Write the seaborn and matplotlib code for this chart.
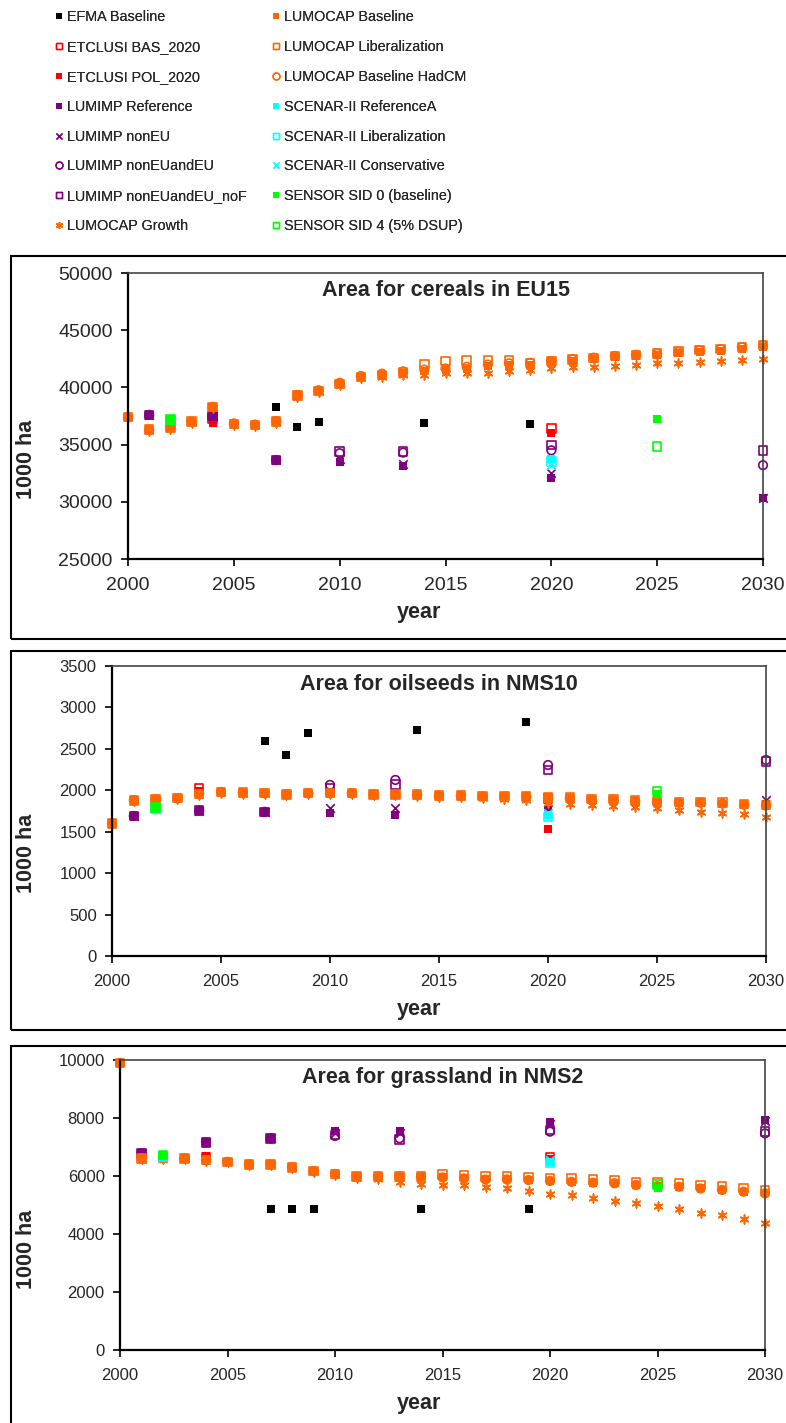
import matplotlib
matplotlib.use('Agg')
import matplotlib.pyplot as plt
import seaborn as sns
from matplotlib.lines import Line2D
from matplotlib.patches import Rectangle

sns.set_style('ticks')
plt.rcParams['font.family'] = ['Liberation Sans', 'DejaVu Sans']

# ---- data (1000 ha) ----
years_lumocap = list(range(2000, 2031))
years_efma = [2007, 2008, 2009, 2014, 2019]
years_etclusi = [2004, 2020]
years_lumimp = [2001, 2004, 2007, 2010, 2013, 2020, 2030]
years_scenar = [2002, 2020]
years_sensor = [2002, 2025]

# cereals EU15
efma_cer = [38300, 36500, 37000, 36900, 36800]
etc_bas_cer = [37300, 36400]
etc_pol_cer = [36900, 36050]
lumimp_ref_cer = [37600, 37500, 33650, 33450, 33100, 32050, 30300]
lumimp_noneu_cer = [37600, 37500, 33650, 33700, 33300, 32500, 30300]
lumimp_eu_cer = [37600, 37500, 33650, 34250, 34300, 34500, 33200]
lumimp_nof_cer = [37600, 37500, 33650, 34400, 34400, 34950, 34500]
lumocap_growth_cer = [37300, 36200, 36400, 36900, 38200, 36700, 36600, 36900, 39200, 39600,
                      40200, 40800, 40950, 41080, 41080, 41230, 41250, 41300, 41400, 41500,
                      41670, 41760, 41820, 41880, 41960, 42100, 42150, 42240, 42330, 42400, 42450]
lumocap_base_cer = [37400, 36300, 36500, 37000, 38300, 36800, 36700, 37000, 39300, 39700,
                    40300, 40900, 41100, 41300, 41450, 41500, 41650, 41850, 41950, 42000,
                    42200, 42330, 42480, 42630, 42740, 42830, 42980, 43120, 43210, 43380, 43560]
lumocap_lib_cer = [37400, 36300, 36500, 37000, 38300, 36800, 36700, 37000, 39300, 39700,
                   40300, 40900, 41100, 41300, 42050, 42300, 42330, 42330, 42330, 42150,
                   42300, 42430, 42580, 42730, 42850, 42980, 43130, 43270, 43360, 43530, 43700]
lumocap_hadcm_cer = [37400, 36300, 36500, 37000, 38300, 36850, 36750, 37050, 39350, 39750,
                     40400, 41000, 41200, 41400, 41550, 41650, 41800, 42000, 42100, 42150,
                     42300, 42450, 42600, 42750, 42850, 42950, 43100, 43250, 43350, 43500, 43650]
scen_ref_cer = [37150, 33700]
scen_lib_cer = [37150, 33500]
scen_cons_cer = [37150, 33250]
sid0_cer = [37200, 37250]
sid4_cer = [37200, 34850]

# oilseeds NMS10
efma_oil = [2590, 2420, 2690, 2730, 2830]
etc_bas_oil = [2020, 1900]
etc_pol_oil = [1990, 1530]
lumimp_ref_oil = [1690, 1755, 1740, 1730, 1700, 1760, 1830]
lumimp_noneu_oil = [1690, 1755, 1740, 1790, 1790, 1860, 1880]
lumimp_eu_oil = [1690, 1755, 1740, 2065, 2125, 2305, 2365]
lumimp_nof_oil = [1690, 1755, 1740, 2030, 2070, 2245, 2345]
lumocap_growth_oil = [1590, 1870, 1880, 1895, 1945, 1970, 1960, 1955, 1940, 1955,
                      1955, 1955, 1940, 1940, 1930, 1920, 1915, 1905, 1900, 1880,
                      1850, 1835, 1820, 1810, 1795, 1790, 1765, 1740, 1720, 1710, 1680]
lumocap_base_oil = [1600, 1880, 1890, 1905, 1955, 1980, 1970, 1965, 1950, 1965,
                    1965, 1965, 1950, 1950, 1945, 1935, 1935, 1925, 1925, 1920,
                    1905, 1905, 1885, 1885, 1870, 1860, 1850, 1850, 1840, 1825, 1815]
lumocap_lib_oil = [1600, 1880, 1890, 1905, 1955, 1980, 1970, 1965, 1950, 1965,
                   1965, 1965, 1950, 1950, 1950, 1940, 1940, 1930, 1930, 1925,
                   1910, 1910, 1895, 1895, 1880, 1870, 1860, 1860, 1850, 1835, 1825]
lumocap_hadcm_oil = [1600, 1880, 1890, 1905, 1955, 1980, 1970, 1965, 1950, 1965,
                     1965, 1965, 1950, 1950, 1945, 1935, 1935, 1925, 1925, 1920,
                     1905, 1905, 1885, 1885, 1870, 1860, 1850, 1850, 1840, 1825, 1815]
scen_ref_oil = [1780, 1700]
scen_lib_oil = [1780, 1680]
scen_cons_oil = [1780, 1720]
sid0_oil = [1790, 1950]
sid4_oil = [1790, 1990]

# grassland NMS2
efma_gra = [4850, 4850, 4850, 4850, 4850]
etc_bas_gra = [6650, 6650]
etc_pol_gra = [6700, 6600]
lumimp_ref_gra = [6780, 7160, 7300, 7560, 7560, 7870, 7930]
lumimp_noneu_gra = [6780, 7160, 7300, 7500, 7480, 7800, 7900]
lumimp_eu_gra = [6780, 7160, 7300, 7380, 7300, 7530, 7470]
lumimp_nof_gra = [6780, 7160, 7300, 7420, 7260, 7590, 7530]
lumocap_growth_gra = [9880, 6590, 6600, 6590, 6530, 6470, 6380, 6380, 6280, 6150,
                      6030, 5940, 5900, 5800, 5720, 5700, 5690, 5630, 5570, 5490,
                      5380, 5340, 5230, 5150, 5060, 4970, 4860, 4740, 4650, 4510, 4370]
lumocap_base_gra = [9900, 6610, 6620, 6610, 6550, 6490, 6400, 6400, 6300, 6170,
                    6070, 5980, 5980, 5980, 5975, 5950, 5920, 5880, 5880, 5860,
                    5830, 5800, 5770, 5750, 5690, 5650, 5630, 5570, 5520, 5460, 5400]
lumocap_lib_gra = [9900, 6610, 6620, 6610, 6550, 6490, 6400, 6400, 6300, 6170,
                   6070, 5980, 5980, 5980, 5975, 6050, 6020, 5980, 5980, 5960,
                   5930, 5910, 5880, 5860, 5800, 5770, 5750, 5690, 5640, 5580, 5500]
lumocap_hadcm_gra = [9900, 6610, 6620, 6610, 6550, 6490, 6400, 6400, 6300, 6170,
                     6070, 5980, 5980, 5980, 5975, 5950, 5920, 5880, 5880, 5860,
                     5830, 5800, 5770, 5750, 5690, 5650, 5630, 5570, 5520, 5460, 5400]
scen_ref_gra = [6680, 6500]
scen_lib_gra = [6680, 6450]
scen_cons_gra = [6680, 6550]
sid0_gra = [6720, 5600]
sid4_gra = [6720, 5700]

BLACK, RED, PURPLE, ORANGE, CYAN, GREEN = '#000000', '#FF0000', '#800080', '#FF6600', '#00FFFF', '#00FF00'
ASTER = (6, 2, 0)

# label, years, (cereals, oilseeds, grassland), color, marker, fill
series = [
    ('EFMA Baseline', years_efma, (efma_cer, efma_oil, efma_gra), BLACK, 's', 'filled'),
    ('ETCLUSI BAS_2020', years_etclusi, (etc_bas_cer, etc_bas_oil, etc_bas_gra), RED, 's', 'open'),
    ('ETCLUSI POL_2020', years_etclusi, (etc_pol_cer, etc_pol_oil, etc_pol_gra), RED, 's', 'filled'),
    ('LUMIMP Reference', years_lumimp, (lumimp_ref_cer, lumimp_ref_oil, lumimp_ref_gra), PURPLE, 's', 'filled'),
    ('LUMIMP nonEU', years_lumimp, (lumimp_noneu_cer, lumimp_noneu_oil, lumimp_noneu_gra), PURPLE, 'x', 'line'),
    ('LUMIMP nonEUandEU', years_lumimp, (lumimp_eu_cer, lumimp_eu_oil, lumimp_eu_gra), PURPLE, 'o', 'open'),
    ('LUMIMP nonEUandEU_noF', years_lumimp, (lumimp_nof_cer, lumimp_nof_oil, lumimp_nof_gra), PURPLE, 's', 'open'),
    ('LUMOCAP Growth', years_lumocap, (lumocap_growth_cer, lumocap_growth_oil, lumocap_growth_gra), ORANGE, ASTER, 'line'),
    ('LUMOCAP Baseline', years_lumocap, (lumocap_base_cer, lumocap_base_oil, lumocap_base_gra), ORANGE, 's', 'filled'),
    ('LUMOCAP Liberalization', years_lumocap, (lumocap_lib_cer, lumocap_lib_oil, lumocap_lib_gra), ORANGE, 's', 'open'),
    ('LUMOCAP Baseline HadCM', years_lumocap, (lumocap_hadcm_cer, lumocap_hadcm_oil, lumocap_hadcm_gra), ORANGE, 'o', 'open'),
    ('SCENAR-II ReferenceA', years_scenar, (scen_ref_cer, scen_ref_oil, scen_ref_gra), CYAN, 's', 'filled'),
    ('SCENAR-II Liberalization', years_scenar, (scen_lib_cer, scen_lib_oil, scen_lib_gra), CYAN, 's', 'open'),
    ('SCENAR-II Conservative', years_scenar, (scen_cons_cer, scen_cons_oil, scen_cons_gra), CYAN, 'x', 'line'),
    ('SENSOR SID 0 (baseline)', years_sensor, (sid0_cer, sid0_oil, sid0_gra), GREEN, 's', 'filled'),
    ('SENSOR SID 4 (5% DSUP)', years_sensor, (sid4_cer, sid4_oil, sid4_gra), GREEN, 's', 'open'),
]

W, H = 786, 1423
fig = plt.figure(figsize=(W / 100, H / 100), dpi=100)

# panel layout in pixels: axes (left, top, right, bottom), frame (top, bottom)
panels = [
    dict(title='Area for cereals in EU15', ax=(128, 273, 763, 559), frame=(256, 639),
         ylim=(25000, 50000), ystep=5000, fs=14, xlab_y=612, ylab_y=459),
    dict(title='Area for oilseeds in NMS10', ax=(112, 666, 766, 956), frame=(651, 1030),
         ylim=(0, 3500), ystep=500, fs=12, xlab_y=1010, ylab_y=853),
    dict(title='Area for grassland in NMS2', ax=(120, 1060, 765, 1350), frame=(1046, 1430),
         ylim=(0, 10000), ystep=2000, fs=12, xlab_y=1404, ylab_y=1249),
]


def draw(ax, x, y, color, marker, fill):
    kw = dict(x=x, y=y, ax=ax, marker=marker, s=38, clip_on=False, legend=False)
    if fill == 'filled':
        kw.update(color=color, edgecolor=color, linewidth=0)
    elif fill == 'open':
        kw.update(color=color, facecolor='none', edgecolor=color, linewidth=1.2)
    else:
        kw.update(color=color, linewidth=1.2)
    sns.scatterplot(**kw)


for i, p in enumerate(panels):
    l, t, r, b = p['ax']
    ax = fig.add_axes([l / W, 1 - b / H, (r - l) / W, (b - t) / H])
    for label, yrs, vals, color, marker, fill in series:
        draw(ax, yrs, vals[i], color, marker, fill)
    ax.set_xlim(2000, 2030)
    ax.set_ylim(*p['ylim'])
    ax.set_xticks(range(2000, 2031, 5))
    ax.set_yticks(range(p['ylim'][0], p['ylim'][1] + 1, p['ystep']))
    ax.tick_params(axis='both', direction='out', length=5, width=1.2, color='black',
                   labelsize=p['fs'], bottom=True, left=True)
    ax.tick_params(axis='x', pad=8)
    ax.tick_params(axis='y', pad=6)
    ax.set_xlabel('')
    ax.set_ylabel('')
    for side in ['left', 'bottom']:
        ax.spines[side].set_color('black')
        ax.spines[side].set_linewidth(1.6)
    for side in ['top', 'right']:
        ax.spines[side].set_color('#444444')
        ax.spines[side].set_linewidth(1.2)
    ax.text(0.5, 1 - 18 / (b - t), p['title'], transform=ax.transAxes, ha='center', va='center',
            fontsize=15.5, fontweight='bold')
    fig.text(419 / W, 1 - p['xlab_y'] / H, 'year', ha='center', va='center',
             fontsize=15.5, fontweight='bold')
    fig.text(27 / W, 1 - p['ylab_y'] / H, '1000 ha', ha='center', va='center', rotation=90,
             fontsize=15.5, fontweight='bold')
    ft, fb = p['frame']
    fig.add_artist(Rectangle((11 / W, 1 - fb / H), (800 - 11) / W, (fb - ft) / H,
                             transform=fig.transFigure, fill=False, lw=1.5, ec='black'))

# legend in two columns at the top
handles = []
for label, yrs, vals, color, marker, fill in series:
    if fill == 'filled':
        h = Line2D([], [], ls='', marker=marker, ms=5, mfc=color, mec=color, mew=0)
    elif fill == 'open':
        h = Line2D([], [], ls='', marker=marker, ms=5, mfc='none', mec=color, mew=1.0)
    else:
        h = Line2D([], [], ls='', marker=marker, ms=5, color=color, mew=1.0)
    handles.append(h)
labels = [s[0] for s in series]

for k, x0 in enumerate([53, 270]):
    leg = fig.legend(handles[8 * k:8 * k + 8], labels[8 * k:8 * k + 8], loc='upper left',
                     bbox_to_anchor=(x0 / W, 1 - 10 / H), frameon=False, borderpad=0,
                     borderaxespad=0, handlelength=0.8, handletextpad=0.2,
                     labelspacing=1.1, prop={'size': 10.4})
    fig.add_artist(leg)

fig.savefig('out.png', dpi=100)
